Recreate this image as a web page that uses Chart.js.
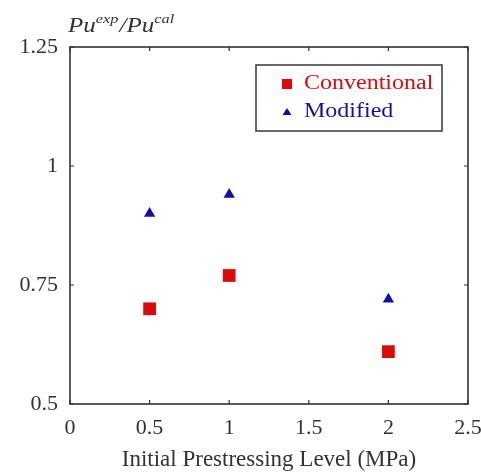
<!DOCTYPE html>
<html>
<head>
<meta charset="utf-8">
<script src="https://cdn.jsdelivr.net/npm/chart.js@4.4.1/dist/chart.umd.min.js"></script>
<style>
  html, body { margin: 0; padding: 0; background: #fff; }
  #wrap { width: 481px; height: 472px; }
</style>
</head>
<body>
<div id="wrap"><canvas id="puChart" width="481" height="472"></canvas></div>
<script>
// data
const prestressLevels = [0.5, 1, 2];
const conventional = [0.70, 0.77, 0.61];
const modified = [0.90, 0.94, 0.72];
const xTicks = [0, 0.5, 1, 1.5, 2, 2.5];
const yTicks = [0.5, 0.75, 1, 1.25];

const RED = '#dc0a0a';
const BLUE = '#1010a8';
const INK = '#333333';
const SERIF = '"Liberation Serif", "Times New Roman", serif';

// frame, inward ticks on all four sides, custom legend and the y title
const decorations = {
    id: 'decorations',
    afterDraw(chart) {
        const { ctx, chartArea: a, scales } = chart;
        ctx.save();
        ctx.strokeStyle = INK;
        ctx.lineWidth = 1.6;
        ctx.strokeRect(a.left, a.top, a.right - a.left, a.bottom - a.top);

        ctx.lineWidth = 1.2;
        ctx.beginPath();
        xTicks.forEach(v => {
            const x = scales.x.getPixelForValue(v);
            ctx.moveTo(x, a.bottom); ctx.lineTo(x, a.bottom - 4);
            ctx.moveTo(x, a.top); ctx.lineTo(x, a.top + 4);
        });
        yTicks.forEach(v => {
            const y = scales.y.getPixelForValue(v);
            ctx.moveTo(a.left, y); ctx.lineTo(a.left + 4, y);
            ctx.moveTo(a.right, y); ctx.lineTo(a.right - 4, y);
        });
        ctx.stroke();

        // legend box
        const lx = 256, ly = 65, lw = 186, lh = 66;
        ctx.fillStyle = '#fff';
        ctx.fillRect(lx, ly, lw, lh);
        ctx.strokeStyle = '#444';
        ctx.lineWidth = 1.6;
        ctx.strokeRect(lx, ly, lw, lh);

        ctx.fillStyle = RED;
        ctx.fillRect(lx + 26, ly + 14, 10, 10);
        ctx.fillStyle = BLUE;
        ctx.beginPath();
        ctx.moveTo(lx + 31, ly + 43);
        ctx.lineTo(lx + 35.5, ly + 50);
        ctx.lineTo(lx + 26.5, ly + 50);
        ctx.closePath();
        ctx.fill();

        // text in the source is a bit wider than tall, so stretch it a little
        const stretch = 1.2;
        ctx.font = '20px ' + SERIF;
        ctx.textBaseline = 'middle';
        ctx.textAlign = 'left';
        ctx.save();
        ctx.translate(lx + 48, 0);
        ctx.scale(stretch, 1);
        ctx.fillStyle = RED;
        ctx.fillText(chart.data.datasets[0].label, 0, ly + 19);
        ctx.fillStyle = BLUE;
        ctx.fillText(chart.data.datasets[1].label, 0, ly + 47);
        ctx.restore();

        // y title Pu^exp / Pu^cal
        ctx.fillStyle = INK;
        ctx.textBaseline = 'alphabetic';
        ctx.save();
        ctx.translate(68, 0);
        ctx.scale(1.25, 1);
        let x = 0;
        const base = 32;
        const parts = [['Pu', 20, 0], ['exp', 13, -9], ['/', 20, 0], ['Pu', 20, 0], ['cal', 13, -9]];
        parts.forEach(([t, s, dy]) => {
            ctx.font = 'italic ' + s + 'px ' + SERIF;
            ctx.fillText(t, x, base + dy);
            x += ctx.measureText(t).width + (t === 'exp' ? 1 : 0);
        });
        ctx.restore();
        ctx.restore();
    }
};

new Chart(document.getElementById('puChart'), {
    type: 'scatter',
    data: {
        datasets: [{
            label: 'Conventional',
            data: prestressLevels.map((x, i) => ({ x, y: conventional[i] })),
            pointStyle: 'rect',
            pointRadius: 9,
            backgroundColor: RED,
            borderColor: RED,
            borderWidth: 0
        }, {
            label: 'Modified',
            data: prestressLevels.map((x, i) => ({ x, y: modified[i] })),
            pointStyle: 'triangle',
            pointRadius: 6.5,
            backgroundColor: BLUE,
            borderColor: BLUE,
            borderWidth: 0
        }]
    },
    options: {
        responsive: false,
        animation: false,
        layout: { padding: { top: 47, right: 13, left: 0, bottom: 0 } },
        plugins: { legend: { display: false }, tooltip: { enabled: false } },
        scales: {
            x: {
                type: 'linear',
                min: 0, max: 2.5,
                afterBuildTicks: s => { s.ticks = xTicks.map(v => ({ value: v })); },
                grid: { display: false },
                border: { display: false },
                ticks: {
                    color: INK,
                    font: { family: SERIF, size: 22 },
                    padding: 3,
                    maxRotation: 0,
                    callback: v => String(v)
                },
                title: {
                    display: true,
                    text: 'Initial Prestressing Level (MPa)',
                    color: INK,
                    font: { family: SERIF, size: 23 },
                    padding: { top: 2, bottom: -2 }
                },
                afterFit: s => {
                    s.height = 68;
                    s.paddingLeft = 0;
                    s.paddingRight = 0;
                }
            },
            y: {
                type: 'linear',
                min: 0.5, max: 1.25,
                afterBuildTicks: s => { s.ticks = yTicks.map(v => ({ value: v })); },
                grid: { display: false },
                border: { display: false },
                ticks: {
                    color: INK,
                    font: { family: SERIF, size: 22 },
                    padding: 4,
                    callback: v => String(v)
                },
                afterFit: s => {
                    s.width = 70;
                    s.paddingTop = 0;
                    s.paddingBottom = 0;
                }
            }
        }
    },
    plugins: [decorations]
});
</script>
</body>
</html>
